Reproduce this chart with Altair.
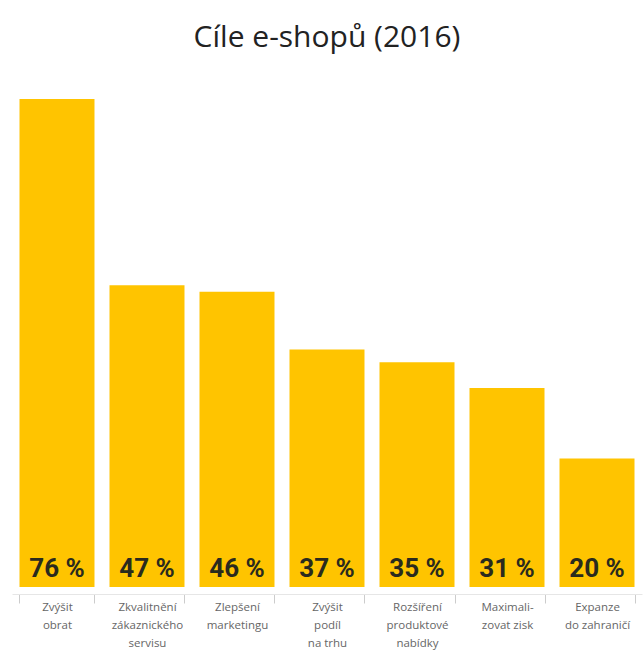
import altair as alt
import pandas as pd

categories = [
    "Zvýšit\nobrat",
    "Zkvalitnění\nzákaznického\nservisu",
    "Zlepšení\nmarketingu",
    "Zvýšit\npodíl\nna trhu",
    "Rozšíření\nproduktové\nnabídky",
    "Maximali-\nzovat zisk",
    "Expanze\ndo zahraničí",
]
values = [76, 47, 46, 37, 35, 31, 20]
value_labels = ["76 %", "47 %", "46 %", "37 %", "35 %", "31 %", "20 %"]

df = pd.DataFrame({"cat": categories, "val": values, "lab": value_labels})

x_enc = alt.X(
    "cat:N",
    sort=None,
    title=None,
    scale=alt.Scale(paddingInner=0.1667, paddingOuter=0.0833),
    axis=alt.Axis(
        labelAngle=0,
        labelExpr="isValid(datum.value) ? split(datum.value, '\\n') : ''",
        labelFont="Open Sans",
        labelFontSize=11.5,
        labelColor="#666666",
        labelLineHeight=18,
        labelPadding=-2,
        labelBaseline="top",
        domain=True,
        domainColor="#e6e6e6",
        ticks=True,
        tickBand="extent",
        tickColor="#cccccc",
        tickSize=9,
        offset=7,
        grid=False,
    ),
)

base = alt.Chart(df).encode(x=x_enc)

bars = base.mark_bar(color="#FFC400").encode(
    y=alt.Y("val:Q", scale=alt.Scale(domain=[0, 76], nice=False), axis=None)
)

text = base.mark_text(
    font="Roboto",
    fontSize=26,
    fontWeight="bold",
    color="#2a2a1e",
    baseline="alphabetic",
    dy=-10,
).encode(y=alt.datum(0), text="lab:N")

chart = (
    alt.layer(bars, text)
    .properties(
        width=630,
        height=488,
        autosize=alt.AutoSizeParams(type="none"),
        padding={"left": 12, "top": 99, "right": 2, "bottom": 67},
        background="white",
        title=alt.TitleParams(
            "Cíle e-shopů (2016)",
            font="Open Sans",
            fontSize=30,
            fontWeight="normal",
            color="#222222",
            anchor="middle",
            baseline="alphabetic",
            offset=22,
        ),
    )
    .configure_view(strokeWidth=0, strokeOpacity=0)
)

chart.save("out.html", embed_options={"renderer": "svg", "actions": False})
